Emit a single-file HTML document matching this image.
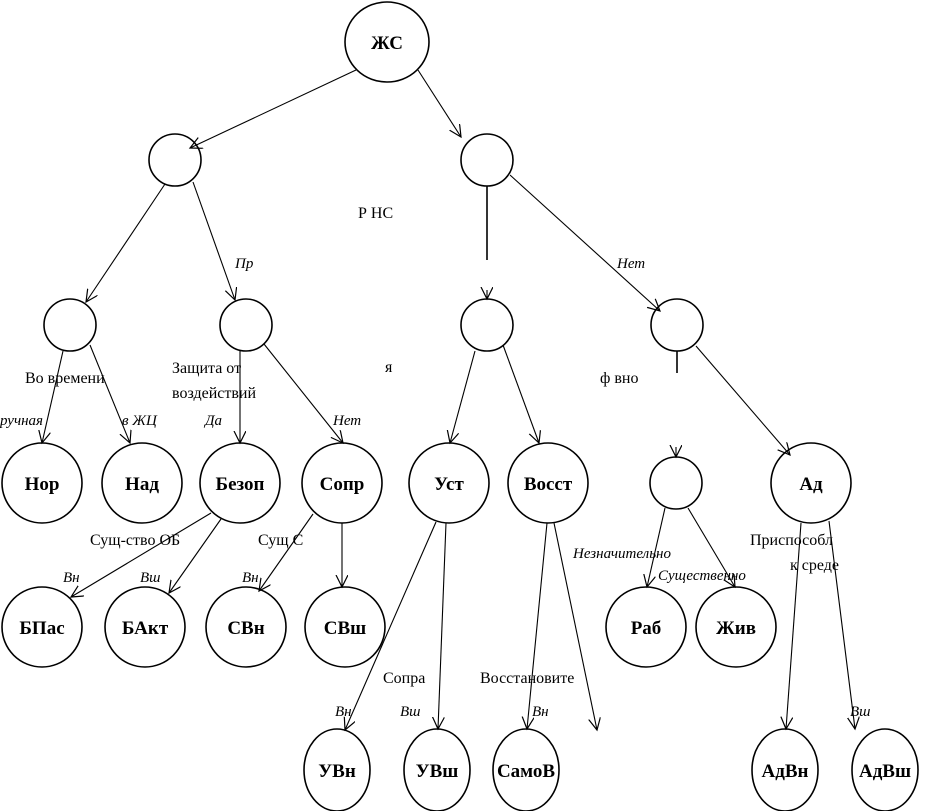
<!DOCTYPE html>
<html><head><meta charset="utf-8"><style>
html,body{margin:0;padding:0;background:#fff;}
svg{display:block}
text{font-family:"Liberation Serif","DejaVu Serif",serif;fill:#000}
.b{font-weight:bold;font-size:19px}
.i{font-style:italic;font-size:15px}
.n{font-size:16px}
</style></head><body>
<svg width="927" height="811" viewBox="0 0 927 811" xmlns="http://www.w3.org/2000/svg">
<defs><marker id="a" markerWidth="14" markerHeight="14" refX="12" refY="6" orient="auto" markerUnits="userSpaceOnUse"><path d="M0,0 L12,6 L0,12" fill="none" stroke="#000" stroke-width="1.2"/></marker></defs>
<g fill="none" stroke="#000" stroke-width="1.6">
<ellipse cx="387" cy="42" rx="42" ry="40"/>
<circle cx="175" cy="160" r="26"/>
<circle cx="487" cy="160" r="26"/>
<circle cx="70" cy="325" r="26"/>
<circle cx="246" cy="325" r="26"/>
<circle cx="487" cy="325" r="26"/>
<circle cx="677" cy="325" r="26"/>
<circle cx="42" cy="483" r="40"/>
<circle cx="142" cy="483" r="40"/>
<circle cx="240" cy="483" r="40"/>
<circle cx="342" cy="483" r="40"/>
<circle cx="449" cy="483" r="40"/>
<circle cx="548" cy="483" r="40"/>
<circle cx="676" cy="483" r="26"/>
<circle cx="811" cy="483" r="40"/>
<circle cx="42" cy="627" r="40"/>
<circle cx="145" cy="627" r="40"/>
<circle cx="246" cy="627" r="40"/>
<circle cx="345" cy="627" r="40"/>
<circle cx="646" cy="627" r="40"/>
<circle cx="736" cy="627" r="40"/>
<ellipse cx="337" cy="770" rx="33" ry="41"/>
<ellipse cx="437" cy="770" rx="33" ry="41"/>
<ellipse cx="526" cy="770" rx="33" ry="41"/>
<ellipse cx="785" cy="770" rx="33" ry="41"/>
<ellipse cx="885" cy="770" rx="33" ry="41"/>
</g>
<g stroke="#000" stroke-width="1.1" marker-end="url(#a)">
<line x1="356" y1="70" x2="190" y2="148"/>
<line x1="418" y1="70" x2="461" y2="137"/>
<line x1="165" y1="184" x2="86" y2="302"/>
<line x1="193" y1="182" x2="235" y2="300"/>
<line x1="487" y1="290" x2="487" y2="299"/>
<line x1="510" y1="175" x2="660" y2="311"/>
<line x1="63" y1="351" x2="42" y2="443"/>
<line x1="90" y1="345" x2="130" y2="443"/>
<line x1="240" y1="351" x2="240" y2="443"/>
<line x1="264" y1="344" x2="343" y2="443"/>
<line x1="475" y1="351" x2="450" y2="443"/>
<line x1="503" y1="345" x2="539" y2="443"/>
<line x1="676" y1="447" x2="676" y2="457"/>
<line x1="696" y1="346" x2="790" y2="455"/>
<line x1="211" y1="513" x2="71" y2="597"/>
<line x1="221" y1="519" x2="169" y2="593"/>
<line x1="313" y1="514" x2="259" y2="591"/>
<line x1="342" y1="523" x2="342" y2="587"/>
<line x1="436" y1="522" x2="345" y2="730"/>
<line x1="446" y1="523" x2="438" y2="729"/>
<line x1="547" y1="523" x2="527" y2="729"/>
<line x1="554" y1="523" x2="597" y2="730"/>
<line x1="665" y1="508" x2="647" y2="587"/>
<line x1="688" y1="508" x2="735" y2="587"/>
<line x1="801" y1="523" x2="786" y2="729"/>
<line x1="829" y1="521" x2="855" y2="729"/>
</g>
<g stroke="#000" stroke-width="1.6">
<line x1="487" y1="186" x2="487" y2="260"/>
<line x1="677" y1="351" x2="677" y2="373"/>
</g>
<text class="b" x="387" y="49" text-anchor="middle">ЖС</text>
<text class="b" x="42" y="490" text-anchor="middle">Нор</text>
<text class="b" x="142" y="490" text-anchor="middle">Над</text>
<text class="b" x="240" y="490" text-anchor="middle">Безоп</text>
<text class="b" x="342" y="490" text-anchor="middle">Сопр</text>
<text class="b" x="449" y="490" text-anchor="middle">Уст</text>
<text class="b" x="548" y="490" text-anchor="middle">Восст</text>
<text class="b" x="811" y="490" text-anchor="middle">Ад</text>
<text class="b" x="42" y="634" text-anchor="middle">БПас</text>
<text class="b" x="145" y="634" text-anchor="middle">БАкт</text>
<text class="b" x="246" y="634" text-anchor="middle">СВн</text>
<text class="b" x="345" y="634" text-anchor="middle">СВш</text>
<text class="b" x="646" y="634" text-anchor="middle">Раб</text>
<text class="b" x="736" y="634" text-anchor="middle">Жив</text>
<text class="b" x="337" y="777" text-anchor="middle" font-size="17">УВн</text>
<text class="b" x="437" y="777" text-anchor="middle" font-size="17">УВш</text>
<text class="b" x="526" y="777" text-anchor="middle" font-size="16">СамоВ</text>
<text class="b" x="785" y="777" text-anchor="middle" font-size="17">АдВн</text>
<text class="b" x="885" y="777" text-anchor="middle" font-size="17">АдВш</text>
<text class="n" x="25" y="383">Во времени</text>
<text class="n" x="172" y="373">Защита от</text>
<text class="n" x="172" y="398">воздействий</text>
<text class="n" x="358" y="218">Р      НС</text>
<text class="n" x="90" y="545">Сущ-ство ОБ</text>
<text class="n" x="258" y="545">Сущ   С</text>
<text class="n" x="383" y="683">Сопра</text>
<text class="n" x="480" y="683">Восстановите</text>
<text class="n" x="750" y="545">Приспособл</text>
<text class="n" x="790" y="570">к среде</text>
<text class="n" x="600" y="383">ф             вно</text>
<text class="n" x="385" y="372">              я</text>
<text class="i" x="0" y="425">ручная</text>
<text class="i" x="122" y="425">в ЖЦ</text>
<text class="i" x="205" y="425">Да</text>
<text class="i" x="333" y="425">Нет</text>
<text class="i" x="235" y="268">Пр</text>
<text class="i" x="617" y="268">Нет</text>
<text class="i" x="63" y="582">Вн</text>
<text class="i" x="140" y="582">Вш</text>
<text class="i" x="242" y="582">Вн</text>
<text class="i" x="335" y="716">Вн</text>
<text class="i" x="400" y="716">Вш</text>
<text class="i" x="532" y="716">Вн</text>
<text class="i" x="850" y="716">Вш</text>
<text class="i" x="573" y="558">Незначительно</text>
<text class="i" x="658" y="580">Существенно</text>
</svg>
</body></html>
